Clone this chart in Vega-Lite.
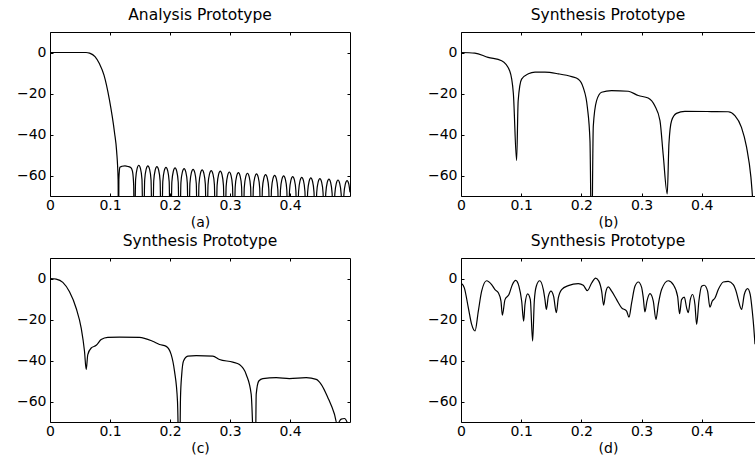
{
  "$schema": "https://vega.github.io/schema/vega-lite/v6.json",
  "padding": {"left": 16, "top": 8, "right": 0, "bottom": 0},
  "background": "white",
  "datasets": {
    "a": [
      {"x":0,"y":0},{"x":0.03,"y":0},{"x":0.06,"y":0},{"x":0.066,"y":-0.3},{"x":0.075,"y":-2},{"x":0.0825,"y":-5.5},{"x":0.09,"y":-11},{"x":0.099,"y":-23},{"x":0.1075,"y":-39},{"x":0.111,"y":-48},{"x":0.1135,"y":-62},{"x":0.1142,"y":-100},
      {"x":0.1148,"y":-62},{"x":0.1165,"y":-56},{"x":0.12,"y":-55.5},{"x":0.125,"y":-55.3},{"x":0.13,"y":-55.6},{"x":0.135,"y":-56.2},{"x":0.1375,"y":-58},{"x":0.1395,"y":-65},{"x":0.1405,"y":-100},
      {"x":0.1427,"y":-61.9},{"x":0.1452,"y":-56.6},{"x":0.148,"y":-55},{"x":0.1508,"y":-56.6},{"x":0.1533,"y":-61.9},{"x":0.15555,"y":-100},
      {"x":0.1578,"y":-62.2},{"x":0.1603,"y":-56.9},{"x":0.1631,"y":-55.3},{"x":0.1659,"y":-56.9},{"x":0.1684,"y":-62.2},{"x":0.17065,"y":-100},
      {"x":0.1729,"y":-62.6},{"x":0.1754,"y":-57.3},{"x":0.1782,"y":-55.7},{"x":0.181,"y":-57.3},{"x":0.1835,"y":-62.6},{"x":0.18575,"y":-100},
      {"x":0.188,"y":-62.9},{"x":0.1905,"y":-57.6},{"x":0.1933,"y":-56},{"x":0.1961,"y":-57.6},{"x":0.1986,"y":-62.9},{"x":0.20085,"y":-100},
      {"x":0.2031,"y":-63.2},{"x":0.2056,"y":-57.9},{"x":0.2084,"y":-56.3},{"x":0.2112,"y":-57.9},{"x":0.2137,"y":-63.2},{"x":0.21595,"y":-100},
      {"x":0.2182,"y":-63.5},{"x":0.2207,"y":-58.2},{"x":0.2235,"y":-56.6},{"x":0.2263,"y":-58.2},{"x":0.2288,"y":-63.5},{"x":0.23105,"y":-100},
      {"x":0.2332,"y":-63.9},{"x":0.2357,"y":-58.6},{"x":0.2385,"y":-57},{"x":0.2413,"y":-58.6},{"x":0.2438,"y":-63.9},{"x":0.24605,"y":-100},
      {"x":0.2483,"y":-64.2},{"x":0.2508,"y":-58.9},{"x":0.2536,"y":-57.3},{"x":0.2564,"y":-58.9},{"x":0.2589,"y":-64.2},{"x":0.26115,"y":-100},
      {"x":0.2634,"y":-64.5},{"x":0.2659,"y":-59.2},{"x":0.2687,"y":-57.6},{"x":0.2715,"y":-59.2},{"x":0.274,"y":-64.5},{"x":0.27625,"y":-100},
      {"x":0.2785,"y":-64.8},{"x":0.281,"y":-59.5},{"x":0.2838,"y":-57.9},{"x":0.2866,"y":-59.5},{"x":0.2891,"y":-64.8},{"x":0.29135,"y":-100},
      {"x":0.2936,"y":-65.2},{"x":0.2961,"y":-59.9},{"x":0.2989,"y":-58.3},{"x":0.3017,"y":-59.9},{"x":0.3042,"y":-65.2},{"x":0.30645,"y":-100},
      {"x":0.3087,"y":-65.5},{"x":0.3112,"y":-60.2},{"x":0.314,"y":-58.6},{"x":0.3168,"y":-60.2},{"x":0.3193,"y":-65.5},{"x":0.32155,"y":-100},
      {"x":0.3238,"y":-65.8},{"x":0.3263,"y":-60.5},{"x":0.3291,"y":-58.9},{"x":0.3319,"y":-60.5},{"x":0.3344,"y":-65.8},{"x":0.33665,"y":-100},
      {"x":0.3389,"y":-66.1},{"x":0.3414,"y":-60.8},{"x":0.3442,"y":-59.2},{"x":0.347,"y":-60.8},{"x":0.3495,"y":-66.1},{"x":0.35175,"y":-100},
      {"x":0.354,"y":-66.5},{"x":0.3565,"y":-61.2},{"x":0.3593,"y":-59.6},{"x":0.3621,"y":-61.2},{"x":0.3646,"y":-66.5},{"x":0.36685,"y":-100},
      {"x":0.3691,"y":-66.8},{"x":0.3716,"y":-61.5},{"x":0.3744,"y":-59.9},{"x":0.3772,"y":-61.5},{"x":0.3797,"y":-66.8},{"x":0.38195,"y":-100},
      {"x":0.3841,"y":-67.1},{"x":0.3866,"y":-61.8},{"x":0.3894,"y":-60.2},{"x":0.3922,"y":-61.8},{"x":0.3947,"y":-67.1},{"x":0.39695,"y":-100},
      {"x":0.3992,"y":-67.4},{"x":0.4017,"y":-62.1},{"x":0.4045,"y":-60.5},{"x":0.4073,"y":-62.1},{"x":0.4098,"y":-67.4},{"x":0.41205,"y":-100},
      {"x":0.4143,"y":-67.8},{"x":0.4168,"y":-62.5},{"x":0.4196,"y":-60.9},{"x":0.4224,"y":-62.5},{"x":0.4249,"y":-67.8},{"x":0.42715,"y":-100},
      {"x":0.4294,"y":-68.1},{"x":0.4319,"y":-62.8},{"x":0.4347,"y":-61.2},{"x":0.4375,"y":-62.8},{"x":0.44,"y":-68.1},{"x":0.44225,"y":-100},
      {"x":0.4445,"y":-68.4},{"x":0.447,"y":-63.1},{"x":0.4498,"y":-61.5},{"x":0.4526,"y":-63.1},{"x":0.4551,"y":-68.4},{"x":0.45735,"y":-100},
      {"x":0.4596,"y":-68.7},{"x":0.4621,"y":-63.4},{"x":0.4649,"y":-61.8},{"x":0.4677,"y":-63.4},{"x":0.4702,"y":-68.7},{"x":0.47245,"y":-100},
      {"x":0.4747,"y":-69.1},{"x":0.4772,"y":-63.8},{"x":0.48,"y":-62.2},{"x":0.4828,"y":-63.8},{"x":0.4853,"y":-69.1},{"x":0.48755,"y":-100},
      {"x":0.4898,"y":-69.4},{"x":0.4923,"y":-64.1},{"x":0.4951,"y":-62.5},{"x":0.4979,"y":-64.1},{"x":0.5,"y":-68.2}
    ],
    "b": [
      {"x":0,"y":0},{"x":0.023,"y":-0.3},{"x":0.045,"y":-2.4},{"x":0.0675,"y":-4},{"x":0.081,"y":-9},{"x":0.087,"y":-20},{"x":0.0924,"y":-52.7},{"x":0.095,"y":-23.5},{"x":0.1007,"y":-13},{"x":0.112,"y":-10.4},{"x":0.123,"y":-9.6},{"x":0.1395,"y":-9.6},{"x":0.1616,"y":-10.4},{"x":0.184,"y":-11.8},{"x":0.195,"y":-13},{"x":0.203,"y":-17},{"x":0.21,"y":-26.8},{"x":0.2143,"y":-43},{"x":0.217,"y":-100},{"x":0.2198,"y":-36},{"x":0.2253,"y":-23.5},{"x":0.2336,"y":-19.4},{"x":0.25,"y":-18.6},{"x":0.278,"y":-18.9},{"x":0.2945,"y":-21},{"x":0.311,"y":-22.2},{"x":0.322,"y":-26},{"x":0.3306,"y":-33.2},{"x":0.336,"y":-50},{"x":0.3427,"y":-69},{"x":0.3455,"y":-44.5},{"x":0.35,"y":-33.2},{"x":0.358,"y":-29.7},{"x":0.372,"y":-28.7},{"x":0.416,"y":-28.8},{"x":0.444,"y":-28.9},{"x":0.455,"y":-30.8},{"x":0.466,"y":-36.5},{"x":0.4745,"y":-46.2},{"x":0.4817,"y":-60.8},{"x":0.4855,"y":-75}
    ],
    "c": [
      {"x":0,"y":0},{"x":0.0103,"y":-0.3},{"x":0.0214,"y":-1.9},{"x":0.0325,"y":-6.5},{"x":0.0436,"y":-14.5},{"x":0.052,"y":-24.2},{"x":0.0575,"y":-35.5},{"x":0.0603,"y":-44.4},{"x":0.063,"y":-37.1},{"x":0.0687,"y":-33.9},{"x":0.077,"y":-32.6},{"x":0.0853,"y":-29.8},{"x":0.0963,"y":-28.7},{"x":0.1158,"y":-28.6},{"x":0.149,"y":-28.7},{"x":0.171,"y":-30.6},{"x":0.1825,"y":-32.2},{"x":0.1937,"y":-33.1},{"x":0.202,"y":-37.1},{"x":0.2075,"y":-45.2},{"x":0.2125,"y":-60},{"x":0.2158,"y":-100},{"x":0.2175,"y":-58},{"x":0.2195,"y":-47},{"x":0.2225,"y":-40.3},{"x":0.2297,"y":-37.9},{"x":0.2437,"y":-37.6},{"x":0.2713,"y":-37.9},{"x":0.2825,"y":-39.5},{"x":0.3047,"y":-40.8},{"x":0.3158,"y":-42},{"x":0.327,"y":-46.8},{"x":0.3353,"y":-56.4},{"x":0.342,"y":-100},{"x":0.3437,"y":-56.4},{"x":0.348,"y":-50},{"x":0.3547,"y":-48.8},{"x":0.377,"y":-48.4},{"x":0.399,"y":-48.8},{"x":0.427,"y":-48.4},{"x":0.4437,"y":-49.2},{"x":0.452,"y":-51.6},{"x":0.463,"y":-58},{"x":0.474,"y":-66.1},{"x":0.4787,"y":-71},{"x":0.4853,"y":-68.6},{"x":0.4908,"y":-68.3},{"x":0.4963,"y":-71},{"x":0.5,"y":-75}
    ],
    "d": [
      {"x":0,"y":-2.2},{"x":0.0055,"y":-4.6},{"x":0.0122,"y":-14.3},{"x":0.0177,"y":-22.4},{"x":0.0233,"y":-25.6},{"x":0.0288,"y":-15.9},{"x":0.0343,"y":-6.2},{"x":0.0426,"y":-1.1},{"x":0.0509,"y":-3},{"x":0.0565,"y":-5.4},{"x":0.062,"y":-7},{"x":0.0664,"y":-11},{"x":0.0687,"y":-17.9},{"x":0.0731,"y":-10.3},{"x":0.0797,"y":-7.8},{"x":0.0853,"y":-3},{"x":0.0908,"y":-0.9},{"x":0.0963,"y":-3.8},{"x":0.1008,"y":-11},{"x":0.1041,"y":-20.8},{"x":0.1063,"y":-12.7},{"x":0.1107,"y":-7.5},{"x":0.1152,"y":-10.3},{"x":0.119,"y":-30.5},{"x":0.1218,"y":-11},{"x":0.1251,"y":-3.8},{"x":0.1307,"y":-1.1},{"x":0.1368,"y":-5.4},{"x":0.1395,"y":-10.3},{"x":0.1418,"y":-15.1},{"x":0.1451,"y":-8.7},{"x":0.1495,"y":-6.2},{"x":0.1539,"y":-8.7},{"x":0.1584,"y":-16.7},{"x":0.1617,"y":-9.5},{"x":0.1672,"y":-5.4},{"x":0.1783,"y":-3.5},{"x":0.1949,"y":-2.5},{"x":0.2032,"y":-3.3},{"x":0.2099,"y":-5.9},{"x":0.2171,"y":-2.2},{"x":0.2237,"y":0.2},{"x":0.2292,"y":-1.4},{"x":0.2337,"y":-6.2},{"x":0.237,"y":-13},{"x":0.2403,"y":-7},{"x":0.2447,"y":-4.1},{"x":0.2503,"y":-6.2},{"x":0.2586,"y":-10.3},{"x":0.2669,"y":-14.3},{"x":0.2752,"y":-15.9},{"x":0.2791,"y":-18.9},{"x":0.2835,"y":-11.9},{"x":0.289,"y":-3.8},{"x":0.2946,"y":-1.7},{"x":0.3001,"y":-4.3},{"x":0.3029,"y":-9.5},{"x":0.3056,"y":-16.3},{"x":0.309,"y":-11},{"x":0.314,"y":-7.4},{"x":0.3195,"y":-11},{"x":0.3239,"y":-20},{"x":0.3278,"y":-12.7},{"x":0.3333,"y":-5.4},{"x":0.3444,"y":-1.1},{"x":0.3527,"y":-3},{"x":0.3599,"y":-8.7},{"x":0.3632,"y":-17.2},{"x":0.3665,"y":-10.3},{"x":0.371,"y":-9.1},{"x":0.3749,"y":-14.3},{"x":0.3776,"y":-16.7},{"x":0.381,"y":-10.3},{"x":0.3848,"y":-7.8},{"x":0.3887,"y":-12.7},{"x":0.3915,"y":-22.4},{"x":0.3953,"y":-11},{"x":0.3998,"y":-3.8},{"x":0.4042,"y":-3.3},{"x":0.4097,"y":-6.2},{"x":0.4136,"y":-14},{"x":0.4175,"y":-11},{"x":0.422,"y":-9.5},{"x":0.4275,"y":-5.4},{"x":0.4358,"y":-1.7},{"x":0.4441,"y":-1.4},{"x":0.4524,"y":-3},{"x":0.4579,"y":-7},{"x":0.4607,"y":-10.3},{"x":0.4662,"y":-15.1},{"x":0.4707,"y":-7.8},{"x":0.4762,"y":-4.9},{"x":0.4805,"y":-7.8},{"x":0.484,"y":-16},{"x":0.4865,"y":-24},{"x":0.4885,"y":-32.1}
    ]
  },
  "columns": 2,
  "spacing": {"row": 62, "column": 111},
  "bounds": "flush",
  "concat": [
    {
      "width": 300, "height": 164,
      "title": "Analysis Prototype",
      "data": {"name": "a"},
      "layer": [
        {
          "mark": {"type": "line", "color": "black", "strokeWidth": 1.2, "clip": true, "interpolate": "monotone"},
          "encoding": {
            "x": {"field": "x", "type": "quantitative", "scale": {"domain": [0, 0.5], "nice": false, "zero": false}, "axis": {"orient": "bottom", "title": "(a)", "values": [0, 0.1, 0.2, 0.3, 0.4], "format": "~g"}},
            "y": {"field": "y", "type": "quantitative", "scale": {"domain": [-70, 10], "nice": false, "zero": false}, "axis": {"orient": "left", "title": null, "values": [-60, -40, -20, 0], "format": "d"}}
          }
        },
        {
          "mark": {"type": "line", "strokeOpacity": 0, "clip": true},
          "encoding": {
            "x": {"field": "x", "type": "quantitative", "axis": {"orient": "top", "title": null, "labels": false, "values": [0, 0.1, 0.2, 0.3, 0.4]}},
            "y": {"field": "y", "type": "quantitative", "axis": {"orient": "right", "title": null, "labels": false, "values": [-60, -40, -20, 0]}}
          }
        }
      ],
      "resolve": {"axis": {"x": "independent", "y": "independent"}}
    },
    {
      "width": 294, "height": 164,
      "title": "Synthesis Prototype",
      "data": {"name": "b"},
      "layer": [
        {
          "mark": {"type": "line", "color": "black", "strokeWidth": 1.2, "clip": true, "interpolate": "monotone"},
          "encoding": {
            "x": {"field": "x", "type": "quantitative", "scale": {"domain": [0, 0.4885], "nice": false, "zero": false}, "axis": {"orient": "bottom", "title": "(b)", "values": [0, 0.1, 0.2, 0.3, 0.4], "format": "~g"}},
            "y": {"field": "y", "type": "quantitative", "scale": {"domain": [-70, 10], "nice": false, "zero": false}, "axis": {"orient": "left", "title": null, "values": [-60, -40, -20, 0], "format": "d"}}
          }
        },
        {
          "mark": {"type": "line", "strokeOpacity": 0, "clip": true},
          "encoding": {
            "x": {"field": "x", "type": "quantitative", "axis": {"orient": "top", "title": null, "labels": false, "values": [0, 0.1, 0.2, 0.3, 0.4]}},
            "y": {"field": "y", "type": "quantitative", "axis": null}
          }
        }
      ],
      "resolve": {"axis": {"x": "independent", "y": "independent"}}
    },
    {
      "width": 300, "height": 164,
      "title": "Synthesis Prototype",
      "data": {"name": "c"},
      "layer": [
        {
          "mark": {"type": "line", "color": "black", "strokeWidth": 1.2, "clip": true, "interpolate": "monotone"},
          "encoding": {
            "x": {"field": "x", "type": "quantitative", "scale": {"domain": [0, 0.5], "nice": false, "zero": false}, "axis": {"orient": "bottom", "title": "(c)", "values": [0, 0.1, 0.2, 0.3, 0.4], "format": "~g"}},
            "y": {"field": "y", "type": "quantitative", "scale": {"domain": [-70, 10], "nice": false, "zero": false}, "axis": {"orient": "left", "title": null, "values": [-60, -40, -20, 0], "format": "d"}}
          }
        },
        {
          "mark": {"type": "line", "strokeOpacity": 0, "clip": true},
          "encoding": {
            "x": {"field": "x", "type": "quantitative", "axis": {"orient": "top", "title": null, "labels": false, "values": [0, 0.1, 0.2, 0.3, 0.4]}},
            "y": {"field": "y", "type": "quantitative", "axis": {"orient": "right", "title": null, "labels": false, "values": [-60, -40, -20, 0]}}
          }
        }
      ],
      "resolve": {"axis": {"x": "independent", "y": "independent"}}
    },
    {
      "width": 294, "height": 164,
      "title": "Synthesis Prototype",
      "data": {"name": "d"},
      "layer": [
        {
          "mark": {"type": "line", "color": "black", "strokeWidth": 1.2, "clip": true, "interpolate": "monotone"},
          "encoding": {
            "x": {"field": "x", "type": "quantitative", "scale": {"domain": [0, 0.4885], "nice": false, "zero": false}, "axis": {"orient": "bottom", "title": "(d)", "values": [0, 0.1, 0.2, 0.3, 0.4], "format": "~g"}},
            "y": {"field": "y", "type": "quantitative", "scale": {"domain": [-70, 10], "nice": false, "zero": false}, "axis": {"orient": "left", "title": null, "values": [-60, -40, -20, 0], "format": "d"}}
          }
        },
        {
          "mark": {"type": "line", "strokeOpacity": 0, "clip": true},
          "encoding": {
            "x": {"field": "x", "type": "quantitative", "axis": {"orient": "top", "title": null, "labels": false, "values": [0, 0.1, 0.2, 0.3, 0.4]}},
            "y": {"field": "y", "type": "quantitative", "axis": null}
          }
        }
      ],
      "resolve": {"axis": {"x": "independent", "y": "independent"}}
    }
  ],
  "config": {
    "font": "DejaVu Sans",
    "view": {"stroke": null},
    "axis": {
      "grid": false, "domainColor": "black", "domainWidth": 1, "tickColor": "black", "tickSize": -3, "tickWidth": 1,
      "labelFont": "DejaVu Sans", "labelFontSize": 14, "labelColor": "black", "labelFlush": false, "labelOverlap": false,
      "titleFont": "DejaVu Sans", "titleFontSize": 14, "titleFontWeight": "normal", "titleColor": "black", "titlePadding": 3
    },
    "axisX": {"labelPadding": 5},
    "axisY": {"labelPadding": 7},
    "title": {"font": "DejaVu Sans", "fontSize": 15.5, "fontWeight": "normal", "color": "black", "offset": 8}
  }
}
